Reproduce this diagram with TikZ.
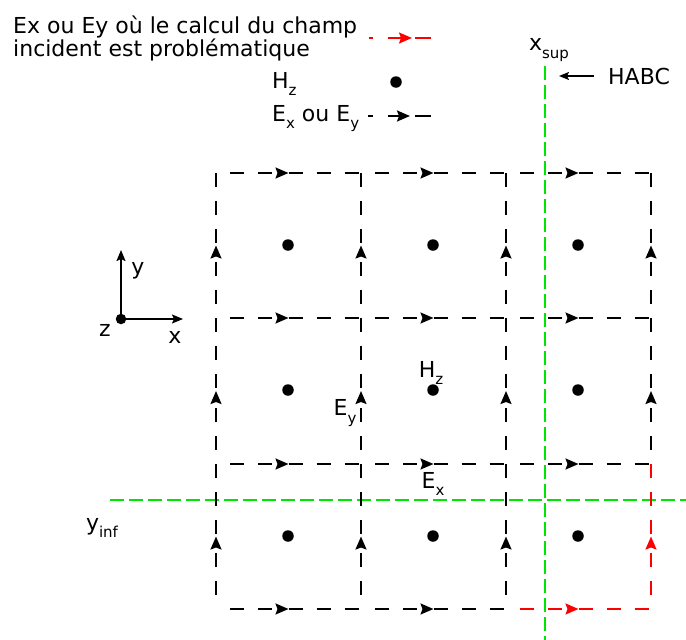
\documentclass[tikz,border=0pt]{standalone}
\usepackage{fontspec}
\setmainfont{DejaVu Sans}
\usetikzlibrary{arrows.meta,calc}
\newcommand{\sbx}[1]{\raisebox{-0.35em}{\fontsize{15}{15}\selectfont #1}}
\begin{document}
\begin{tikzpicture}[x=1pt,y=-1pt,
  every node/.style={inner sep=0pt,font=\fontsize{22}{23}\selectfont},
  tip/.style={-{Stealth[length=13pt,width=11pt,inset=2pt]}},
  grid/.style={line width=1.8pt,dash pattern=on 14pt off 14pt},
  gridA/.style={grid,dash phase=14pt,tip},
  hab/.style={green!90!black,line width=1.6pt,dash pattern=on 14pt off 5pt},
  hdot/.style={circle,fill=black,minimum size=11.5pt,inner sep=0pt},
  axis/.style={line width=1.6pt,-{Stealth[length=11pt,width=9pt,inset=2pt]}}]
\useasboundingbox (0,0) rectangle (686,640);
% grid coordinates
\foreach \i/\x in {0/216,1/361,2/506,3/651}{
  \foreach \j/\y in {0/173,1/318,2/464,3/609}{
    \coordinate (p\i\j) at (\x,\y);
  }
}
% green HABC lines
\coordinate (gt) at (545,66);
\coordinate (gb) at (545,640);
\coordinate (gl) at (110,500);
\coordinate (gr) at (686,500);
\draw[hab] (gt) -- (gb);
\draw[hab] (gl) -- (gr);
% horizontal edges
\foreach \j in {0,1,2,3}{
  \foreach \i/\n in {0/1,1/2,2/3}{
    \ifnum\j=3 \ifnum\i=2 \def\ecol{red}\else\def\ecol{black}\fi\else\def\ecol{black}\fi
    \coordinate (hm\i\j) at ($(p\i\j)!0.5!(p\n\j)$);
    \draw[gridA,draw=\ecol] (p\i\j) -- (hm\i\j);
    \draw[grid,draw=\ecol] (hm\i\j) -- (p\n\j);
  }
}
% vertical edges
\foreach \i in {0,1,2,3}{
  \foreach \j/\n in {0/1,1/2,2/3}{
    \ifnum\i=3 \ifnum\j=2 \def\ecol{red}\else\def\ecol{black}\fi\else\def\ecol{black}\fi
    \coordinate (vm\i\j) at ($(p\i\j)!0.5!(p\i\n)$);
    \draw[gridA,draw=\ecol] (p\i\n) -- (vm\i\j);
    \draw[grid,draw=\ecol] (p\i\j) -- (vm\i\j);
  }
}
% H dots
\foreach \x in {288,433,578}{
  \foreach \y in {245,390,536}{
    \node[hdot] at (\x,\y) {};
  }
}
% axes
\node[hdot,minimum size=10.5pt] (o) at (121,319) {};
\coordinate (ay) at (121,250);
\coordinate (ax) at (183,319);
\draw[axis] (o.center) -- (ay);
\draw[axis] (o.center) -- (ax);
\node (ly) at (138,271) {y};
\node (lz) at (105,330) {z};
\node (lx) at (175,337) {x};
% labels
\node (lh) at (431,373) {H\sbx{z}};
\node (ley) at (345,413) {E\sbx{y}};
\node (lex) at (433,484) {E\sbx{x}};
\node (yinf) at (102,528) {y\sbx{inf}};
\node (xsup) at (549,50) {x\sbx{sup}};
\coordinate (hs) at (594,76);
\coordinate (he) at (559,76);
\draw[line width=1.6pt,-{Stealth[length=10pt,width=8pt,inset=2pt]}] (hs) -- (he);
\node[anchor=west] (habc) at (608,76) {HABC};
% legend
\node[anchor=base west,align=left] (title) at (13,33) {Ex ou Ey où le calcul du champ};
\node[anchor=base west,align=left] (title2) at (13,56) {incident est problématique};
\coordinate (r1) at (369,38);
\coordinate (r2) at (373,38);
\coordinate (r3) at (388,38);
\coordinate (r4) at (412,38);
\coordinate (r5) at (415,38);
\coordinate (r6) at (431,38);
\draw[red,line width=1.8pt] (r1) -- (r2);
\draw[red,line width=1.8pt,tip] (r3) -- (r4);
\draw[red,line width=1.8pt] (r5) -- (r6);
\node[anchor=base west] (lhz) at (272,88) {H\sbx{z}};
\node[hdot] (ldot) at (396,82) {};
\node[anchor=base west] (lexy) at (272,121) {E\sbx{x} ou E\sbx{y}};
\coordinate (k1) at (368,116);
\coordinate (k2) at (373,116);
\coordinate (k3) at (388,116);
\coordinate (k4) at (410,116);
\coordinate (k5) at (415,116);
\coordinate (k6) at (431,116);
\draw[line width=1.8pt] (k1) -- (k2);
\draw[line width=1.8pt,tip] (k3) -- (k4);
\draw[line width=1.8pt] (k5) -- (k6);
\end{tikzpicture}
\end{document}
